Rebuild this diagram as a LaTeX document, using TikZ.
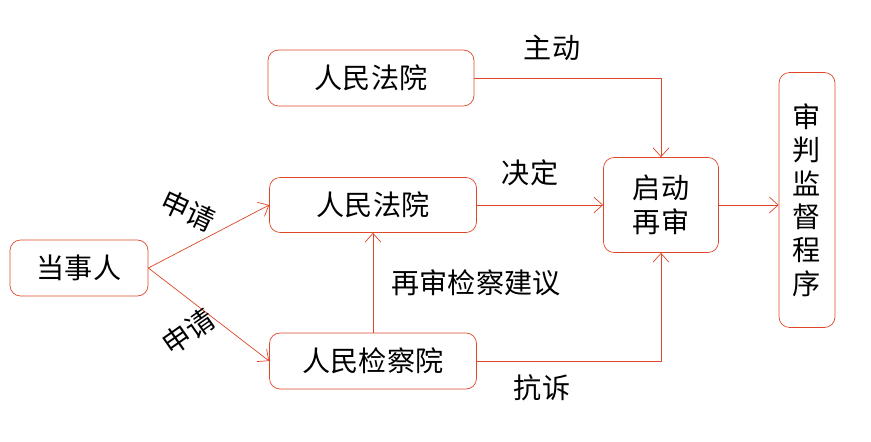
\documentclass[tikz,border=0pt]{standalone}
\usepackage{fontspec}
\setmainfont{Noto Sans CJK SC}
\usetikzlibrary{arrows.meta}
\definecolor{lineorange}{RGB}{222,70,40}

\begin{document}
\begin{tikzpicture}[
     x=0.02cm, y=-0.02cm,
     box/.style = {draw=lineorange, rounded corners=6pt, inner sep=0pt,
                   font=\fontsize{16pt}{19pt}\selectfont},
     lbl/.style = {font=\fontsize{16pt}{19pt}\selectfont},
     conn/.style = {draw=lineorange, -{Straight Barb[length=5pt,width=9pt]}}
    ]
    \useasboundingbox (0,0) rectangle (871,442);

    \node[box, minimum width=138*0.02cm, minimum height=56*0.02cm] (party) at (79,268) {当事人};
    \node[box, minimum width=206*0.02cm, minimum height=56*0.02cm] (courttop) at (371,78) {人民法院};
    \node[box, minimum width=207*0.02cm, minimum height=55*0.02cm] (court) at (373,205) {人民法院};
    \node[box, minimum width=207*0.02cm, minimum height=56*0.02cm] (procur) at (373,361) {人民检察院};
    \node[box, minimum width=115*0.02cm, minimum height=95*0.02cm, align=center] (retrial) at (661,205) {启动\\再审};
    \node[box, minimum width=56*0.02cm, minimum height=255*0.02cm, align=center] (super) at (807,200) {审\\判\\监\\督\\程\\序};

    % connectors
    \draw[conn] (party.east) -- (court.west);
    \draw[conn] (party.east) -- (procur.west);
    \draw[conn] (courttop.east) -| (retrial.north);
    \draw[conn] (court.east) -- (retrial.west);
    \draw[conn] (procur.north) -- (court.south);
    \draw[conn] (procur.east) -| (retrial.south);
    \draw[conn] (retrial.east) -- (retrial.east -| super.west);

    % labels
    \node[lbl, rotate=-25] (l1) at (188,211) {申请};
    \node[lbl, rotate=35] (l2) at (188,332) {申请};
    \node[lbl] (l3) at (552,48) {主动};
    \node[lbl] (l4) at (530,173) {决定};
    \node[lbl] (l5) at (476,283) {再审检察建议};
    \node[lbl] (l6) at (542,388) {抗诉};
\end{tikzpicture}
\end{document}
